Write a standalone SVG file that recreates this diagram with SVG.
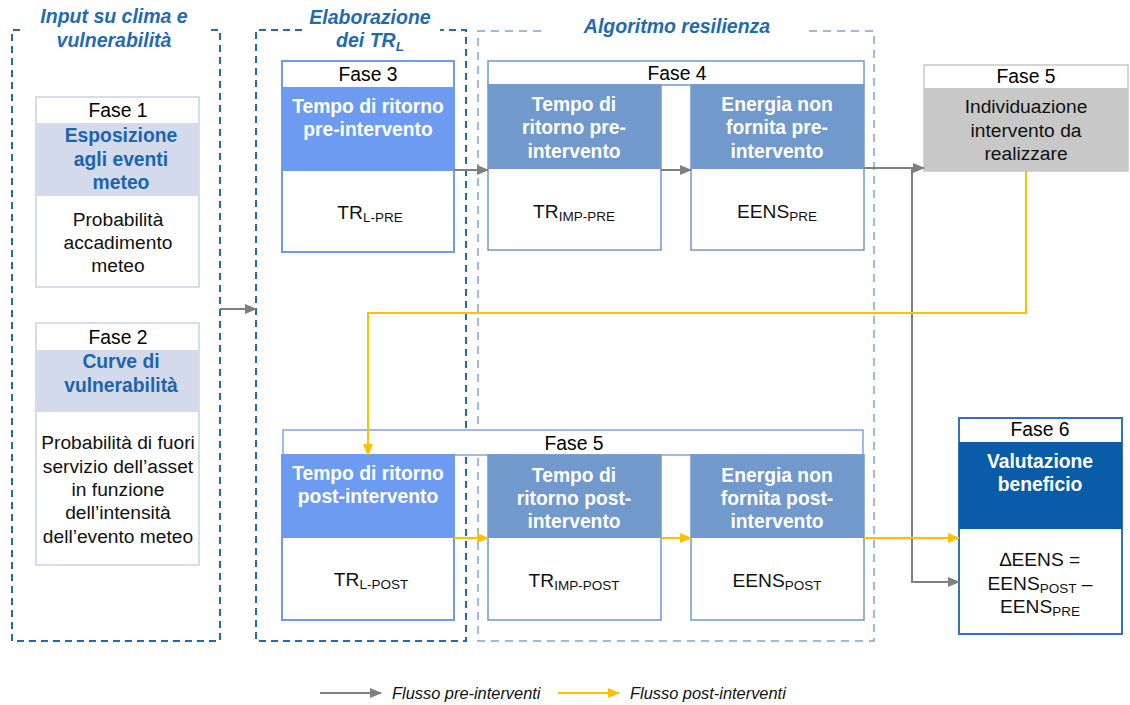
<svg xmlns="http://www.w3.org/2000/svg" width="1130" height="705" viewBox="0 0 1130 705">
<style>
  text { font-family: "Liberation Sans", Arial, sans-serif; }
  .title { font-size: 19.5px; font-weight: bold; font-style: italic; fill: #1F6AB2; text-anchor: middle; }
  .fase { font-size: 19.3px; fill: #000; text-anchor: middle; }
  .hb { font-size: 19.3px; font-weight: bold; fill: #1C64AE; text-anchor: middle; }
  .hw { font-size: 19.3px; font-weight: bold; fill: #fff; text-anchor: middle; }
  .body { font-size: 19.2px; fill: #111; text-anchor: middle; }
  .sub { font-size: 13.5px; }
  .legend { font-size: 16.4px; font-style: italic; fill: #111; }
  .cont1 { fill: none; stroke: #1F6AB2; stroke-width: 2; stroke-dasharray: 7 5; }
  .cont2 { fill: none; stroke: #7FA2D6; stroke-width: 1.5; stroke-dasharray: 8 6; }
  .gray { fill: none; stroke: #7F7F7F; stroke-width: 2; }
  .yel { fill: none; stroke: #FFC000; stroke-width: 2; }
</style>
<defs>
  <marker id="ag" markerUnits="userSpaceOnUse" markerWidth="12" markerHeight="12" viewBox="0 0 12 12" refX="11" refY="6" orient="auto">
    <path d="M0,1 L12,6 L0,11 Z" fill="#7F7F7F"/>
  </marker>
  <marker id="ay" markerUnits="userSpaceOnUse" markerWidth="12" markerHeight="12" viewBox="0 0 12 12" refX="11" refY="6" orient="auto">
    <path d="M0,1 L12,6 L0,11 Z" fill="#FFC000"/>
  </marker>
</defs>
<rect width="1130" height="705" fill="#fff"/>

<!-- containers -->
<g id="container-input">
  <path class="cont1" d="M20,30 H12 V641 H220 V30 H209"/>
  <text class="title" x="114" y="23">Input su clima e</text>
  <text class="title" x="114" y="47">vulnerabilità</text>
</g>
<g id="container-elaborazione">
  <path class="cont1" d="M302,30 H256 V641 H466 V30 H440"/>
  <text class="title" x="370" y="24">Elaborazione</text>
  <text class="title" x="370" y="47">dei TR<tspan class="sub" dy="4">L</tspan></text>
</g>
<g id="container-algoritmo">
  <path class="cont2" d="M541,31 H478 V641 H874 V31 H808"/>
  <text class="title" x="677" y="33">Algoritmo resilienza</text>
</g>

<!-- Fase 1 -->
<g id="fase1">
  <rect x="36" y="97" width="163" height="190" fill="#fff" stroke="#D5DCEE" stroke-width="2"/>
  <rect x="37" y="123" width="161" height="73" fill="#D3DAEC"/>
  <text class="fase" x="118" y="117">Fase 1</text>
  <text class="hb" x="121" y="142">Esposizione</text>
  <text class="hb" x="121" y="166">agli eventi</text>
  <text class="hb" x="121" y="189">meteo</text>
  <text class="body" x="118" y="226">Probabilità</text>
  <text class="body" x="118" y="249">accadimento</text>
  <text class="body" x="118" y="272">meteo</text>
</g>

<!-- Fase 2 -->
<g id="fase2">
  <rect x="36" y="323" width="163" height="242" fill="#fff" stroke="#D5DCEE" stroke-width="2"/>
  <rect x="37" y="350" width="161" height="62" fill="#D3DAEC"/>
  <text class="fase" x="118" y="344">Fase 2</text>
  <text class="hb" x="121" y="368">Curve di</text>
  <text class="hb" x="121" y="392">vulnerabilità</text>
  <text class="body" x="118" y="449">Probabilità di fuori</text>
  <text class="body" x="118" y="473">servizio dell’asset</text>
  <text class="body" x="118" y="496">in funzione</text>
  <text class="body" x="118" y="519">dell’intensità</text>
  <text class="body" x="118" y="543">dell’evento meteo</text>
</g>

<!-- Fase 3 -->
<g id="fase3">
  <rect x="282" y="61" width="172" height="191" fill="#fff" stroke="#6D9BF1" stroke-width="2"/>
  <rect x="282" y="87" width="172" height="84" fill="#6D9BF1"/>
  <text class="fase" x="368" y="81">Fase 3</text>
  <text class="hw" x="368" y="113">Tempo di ritorno</text>
  <text class="hw" x="368" y="136">pre-intervento</text>
  <text class="body" x="370" y="219">TR<tspan class="sub" dy="3">L-PRE</tspan></text>
</g>

<!-- Fase 4 -->
<g id="fase4">
  <rect x="488" y="61" width="376" height="24" fill="#fff" stroke="#7199CC" stroke-width="1.5"/>
  <rect x="488" y="85" width="173" height="165" fill="#fff" stroke="#7199CC" stroke-width="1.5"/>
  <rect x="488" y="85" width="173" height="84" fill="#7199CC"/>
  <rect x="691" y="85" width="173" height="165" fill="#fff" stroke="#7199CC" stroke-width="1.5"/>
  <rect x="691" y="85" width="173" height="84" fill="#7199CC"/>
  <text class="fase" x="677" y="80">Fase 4</text>
  <text class="hw" x="574" y="111">Tempo di</text>
  <text class="hw" x="574" y="134">ritorno pre-</text>
  <text class="hw" x="574" y="158">intervento</text>
  <text class="hw" x="777" y="111">Energia non</text>
  <text class="hw" x="777" y="134">fornita pre-</text>
  <text class="hw" x="777" y="158">intervento</text>
  <text class="body" x="574" y="218">TR<tspan class="sub" dy="3">IMP-PRE</tspan></text>
  <text class="body" x="777" y="218">EENS<tspan class="sub" dy="3">PRE</tspan></text>
</g>

<!-- Fase 5 top -->
<g id="fase5-individuazione">
  <rect x="924" y="65" width="204" height="106" fill="#fff" stroke="#C8C8C8" stroke-width="1.5"/>
  <rect x="924" y="88" width="204" height="83" fill="#C8C8C8"/>
  <text class="fase" x="1026" y="83">Fase 5</text>
  <text class="body" x="1026" y="113" fill="#262626">Individuazione</text>
  <text class="body" x="1026" y="137" fill="#262626">intervento da</text>
  <text class="body" x="1026" y="160" fill="#262626">realizzare</text>
</g>

<!-- Fase 5 bottom -->
<g id="fase5-post">
  <rect x="283" y="430" width="580" height="25" fill="#fff" stroke="#7FA3E6" stroke-width="1.5"/>
  <rect x="282" y="455" width="172" height="165" fill="#fff" stroke="#6D9BF1" stroke-width="2"/>
  <rect x="282" y="455" width="172" height="83" fill="#6D9BF1"/>
  <rect x="488" y="455" width="173" height="165" fill="#fff" stroke="#7199CC" stroke-width="1.5"/>
  <rect x="488" y="455" width="173" height="83" fill="#7199CC"/>
  <rect x="691" y="455" width="173" height="165" fill="#fff" stroke="#7199CC" stroke-width="1.5"/>
  <rect x="691" y="455" width="173" height="83" fill="#7199CC"/>
  <text class="fase" x="574" y="450">Fase 5</text>
  <text class="hw" x="368" y="480">Tempo di ritorno</text>
  <text class="hw" x="368" y="503">post-intervento</text>
  <text class="hw" x="574" y="482">Tempo di</text>
  <text class="hw" x="574" y="505">ritorno post-</text>
  <text class="hw" x="574" y="528">intervento</text>
  <text class="hw" x="777" y="482">Energia non</text>
  <text class="hw" x="777" y="505">fornita post-</text>
  <text class="hw" x="777" y="528">intervento</text>
  <text class="body" x="371" y="586">TR<tspan class="sub" dy="3">L-POST</tspan></text>
  <text class="body" x="574" y="587">TR<tspan class="sub" dy="3">IMP-POST</tspan></text>
  <text class="body" x="777" y="587">EENS<tspan class="sub" dy="3">POST</tspan></text>
</g>

<!-- Fase 6 -->
<g id="fase6">
  <rect x="959" y="418" width="163" height="216" fill="#fff" stroke="#2E75B6" stroke-width="2"/>
  <rect x="959" y="442" width="163" height="87" fill="#0B5CA8"/>
  <text class="fase" x="1040" y="436">Fase 6</text>
  <text class="hw" x="1040" y="468">Valutazione</text>
  <text class="hw" x="1040" y="491">beneficio</text>
  <text class="body" x="1040" y="566">∆EENS =</text>
  <text class="body" x="1040" y="590">EENS<tspan class="sub" dy="3">POST</tspan><tspan dy="-3"> –</tspan></text>
  <text class="body" x="1040" y="613">EENS<tspan class="sub" dy="3">PRE</tspan></text>
</g>

<!-- connectors -->
<g id="connectors">
  <path class="gray" d="M220,309 H256" marker-end="url(#ag)"/>
  <path class="gray" d="M454,170 H488" marker-end="url(#ag)"/>
  <path class="gray" d="M661,170 H691" marker-end="url(#ag)"/>
  <path class="gray" d="M864,168 H924" marker-end="url(#ag)"/>
  <path class="gray" d="M912,168 V582 H959" marker-end="url(#ag)"/>
  <path class="yel" d="M1026,171 V313 H368 V455" marker-end="url(#ay)"/>
  <path class="yel" d="M454,538 H488" marker-end="url(#ay)"/>
  <path class="yel" d="M661,538 H691" marker-end="url(#ay)"/>
  <path class="yel" d="M864,538 H959" marker-end="url(#ay)"/>
</g>

<!-- legend -->
<g id="legend">
  <path class="gray" d="M320,693 H381" marker-end="url(#ag)"/>
  <text class="legend" x="392" y="699">Flusso pre-interventi</text>
  <path class="yel" d="M558,693 H619" marker-end="url(#ay)"/>
  <text class="legend" x="630" y="699">Flusso post-interventi</text>
</g>
</svg>
